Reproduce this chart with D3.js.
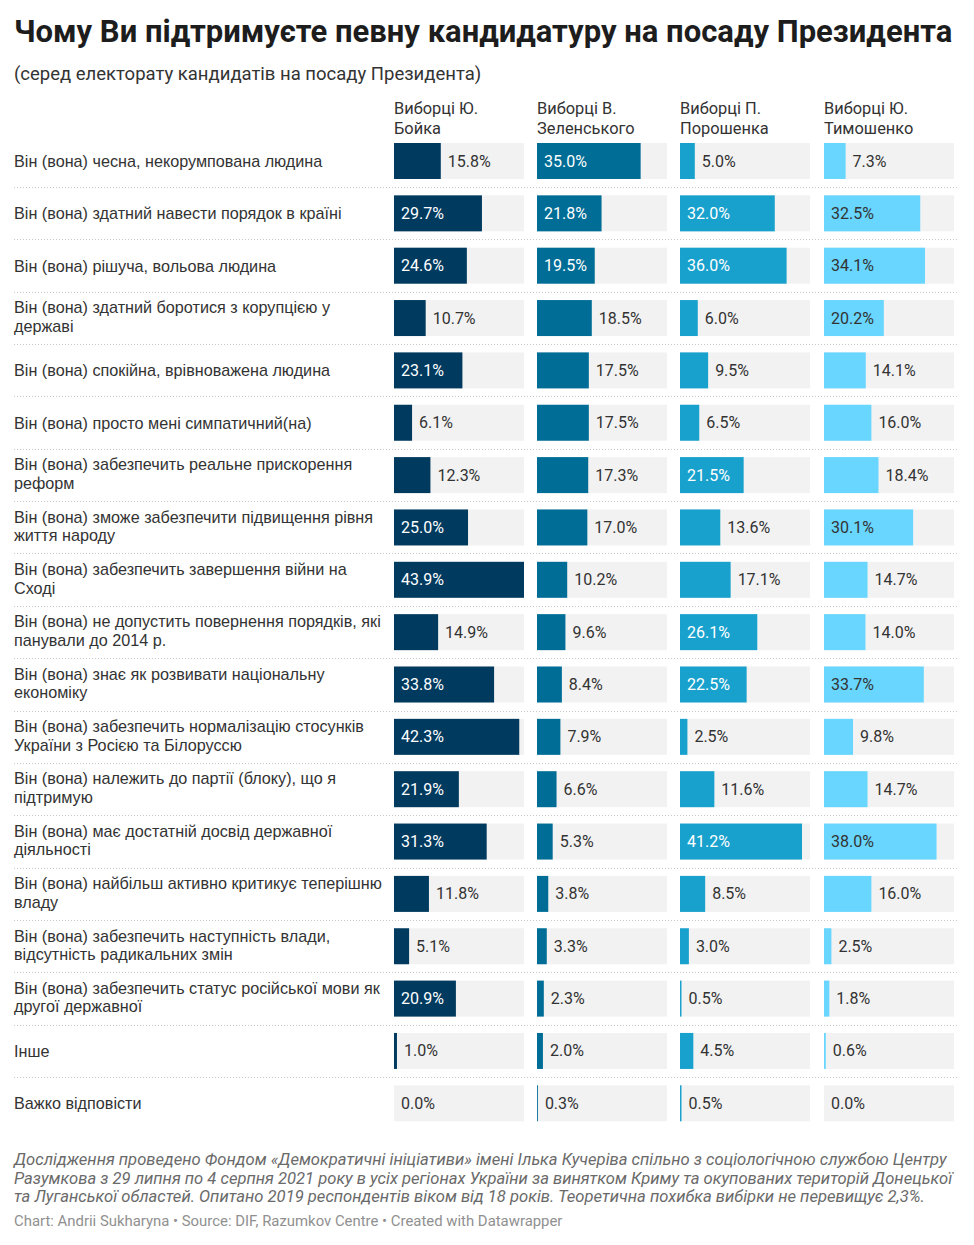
<!DOCTYPE html>
<html><head><meta charset="utf-8">
<script src="https://cdn.jsdelivr.net/npm/d3@7"></script>
<style>
body{margin:0;background:#fff;}
svg{display:block;}
</style></head>
<body>
<svg id="chart" width="974" height="1245"></svg>
<script>
const categories = [
  "Він (вона) чесна, некорумпована людина",
  "Він (вона) здатний навести порядок в країні",
  "Він (вона) рішуча, вольова людина",
  "Він (вона) здатний боротися з корупцією у\nдержаві",
  "Він (вона) спокійна, врівноважена людина",
  "Він (вона) просто мені симпатичний(на)",
  "Він (вона) забезпечить реальне прискорення\nреформ",
  "Він (вона) зможе забезпечити підвищення рівня\nжиття народу",
  "Він (вона) забезпечить завершення війни на\nСході",
  "Він (вона) не допустить повернення порядків, які\nпанували до 2014 р.",
  "Він (вона) знає як розвивати національну\nекономіку",
  "Він (вона) забезпечить нормалізацію стосунків\nУкраїни з Росією та Білоруссю",
  "Він (вона) належить до партії (блоку), що я\nпідтримую",
  "Він (вона) має достатній досвід державної\nдіяльності",
  "Він (вона) найбільш активно критикує теперішню\nвладу",
  "Він (вона) забезпечить наступність влади,\nвідсутність радикальних змін",
  "Він (вона) забезпечить статус російської мови як\nдругої державної",
  "Інше",
  "Важко відповісти"
];
const seriesNames = ["Виборці Ю.\nБойка", "Виборці В.\nЗеленського", "Виборці П.\nПорошенка", "Виборці Ю.\nТимошенко"];
const boyko = [15.8, 29.7, 24.6, 10.7, 23.1, 6.1, 12.3, 25.0, 43.9, 14.9, 33.8, 42.3, 21.9, 31.3, 11.8, 5.1, 20.9, 1.0, 0.0];
const zelensky = [35.0, 21.8, 19.5, 18.5, 17.5, 17.5, 17.3, 17.0, 10.2, 9.6, 8.4, 7.9, 6.6, 5.3, 3.8, 3.3, 2.3, 2.0, 0.3];
const poroshenko = [5.0, 32.0, 36.0, 6.0, 9.5, 6.5, 21.5, 13.6, 17.1, 26.1, 22.5, 2.5, 11.6, 41.2, 8.5, 3.0, 0.5, 4.5, 0.5];
const tymoshenko = [7.3, 32.5, 34.1, 20.2, 14.1, 16.0, 18.4, 30.1, 14.7, 14.0, 33.7, 9.8, 14.7, 38.0, 16.0, 2.5, 1.8, 0.6, 0.0];
const series = [boyko, zelensky, poroshenko, tymoshenko];
const colors = ["#003a5f", "#006d96", "#18a1cd", "#68d6fe"];
const insideText = ["#ffffff", "#ffffff", "#ffffff", "#333333"];

const title = "Чому Ви підтримуєте певну кандидатуру на посаду Президента";
const subtitle = "(серед електорату кандидатів на посаду Президента)";
const notes = [
  "Дослідження проведено Фондом «Демократичні ініціативи» імені Ілька Кучеріва спільно з соціологічною службою Центру",
  "Разумкова з 29 липня по 4 серпня 2021 року в усіх регіонах України за винятком Криму та окупованих територій Донецької",
  "та Луганської областей. Опитано 2019 респондентів віком від 18 років. Теоретична похибка вибірки не перевищує 2,3%."
];
const credit = "Chart: Andrii Sukharyna • Source: DIF, Razumkov Centre • Created with Datawrapper";

const svg = d3.select("#chart");

svg.append("text").attr("x", 14).attr("y", 42)
  .attr("font-family", "Roboto, sans-serif").attr("font-weight", 700)
  .attr("font-size", 31).attr("fill", "#1d1d1d").text(title);
svg.append("text").attr("x", 14).attr("y", 80)
  .attr("font-family", "Roboto, sans-serif").attr("font-size", 18.5)
  .attr("fill", "#333").text(subtitle);

const colStarts = [394, 537, 680, 824];
const colW = 130;
const x = d3.scaleLinear().domain([0, d3.max(series.flat())]).range([0, colW]);
const rowStep = 52.35, barTop0 = 143, barH = 36;
const y = d3.scaleLinear().domain([0, 1]).range([barTop0, barTop0 + rowStep]);

// column headers
seriesNames.forEach((n, j) => {
  const t = svg.append("text").attr("x", colStarts[j]).attr("y", 114)
    .attr("font-family", "Roboto, sans-serif").attr("font-size", 16.4).attr("fill", "#333");
  n.split("\n").forEach((l, k) => t.append("tspan").attr("x", colStarts[j]).attr("dy", k ? 19.5 : 0).text(l));
});

// separators
for (let i = 0; i < categories.length - 1; i++) {
  const yy = Math.round(y(i) + barH + 8) + 0.5;
  svg.append("line").attr("x1", 14).attr("x2", 958).attr("y1", yy).attr("y2", yy)
    .attr("stroke", "#c8c8c8").attr("stroke-width", 1).attr("stroke-dasharray", "1,2");
}

// row labels
categories.forEach((c, i) => {
  const lines = c.split("\n");
  const cy = y(i) + barH / 2 - (lines.length > 1 ? 1.5 : 0);
  const t = svg.append("text").attr("font-family", "'Liberation Sans', Arial, sans-serif")
    .attr("font-size", 16.2).attr("fill", "#333");
  lines.forEach((l, k) => {
    t.append("tspan").attr("x", 14)
      .attr("y", cy + 6 + (k - (lines.length - 1) / 2) * 18.5).text(l);
  });
});

// bars
series.forEach((vals, j) => {
  const g = svg.append("g").attr("transform", `translate(${colStarts[j]},0)`);
  g.selectAll("rect.bg").data(vals).join("rect").attr("class", "bg")
    .attr("x", 0).attr("y", (d, i) => y(i)).attr("width", colW).attr("height", barH)
    .attr("fill", "#f2f2f2");
  g.selectAll("rect.bar").data(vals).join("rect").attr("class", "bar")
    .attr("x", 0).attr("y", (d, i) => y(i)).attr("width", d => x(d)).attr("height", barH)
    .attr("fill", colors[j]);
  g.selectAll("text").data(vals).join("text")
    .attr("font-family", "Roboto, sans-serif").attr("font-size", 16)
    .attr("x", d => d >= 19 ? 7 : x(d) + 7)
    .attr("y", (d, i) => y(i) + barH / 2 + 5.5)
    .attr("fill", d => d >= 19 ? insideText[j] : "#333")
    .text(d => d.toFixed(1) + "%");
});

// notes
notes.forEach((n, k) => {
  svg.append("text").attr("x", 14).attr("y", 1165 + k * 18.5)
    .attr("font-family", "Roboto, sans-serif").attr("font-style", "italic")
    .attr("font-size", 16.6).attr("fill", "#6a6a6a").text(n);
});
svg.append("text").attr("x", 14).attr("y", 1226)
  .attr("font-family", "Roboto, sans-serif").attr("font-size", 14.9)
  .attr("fill", "#909090").text(credit);
</script>
</body></html>
